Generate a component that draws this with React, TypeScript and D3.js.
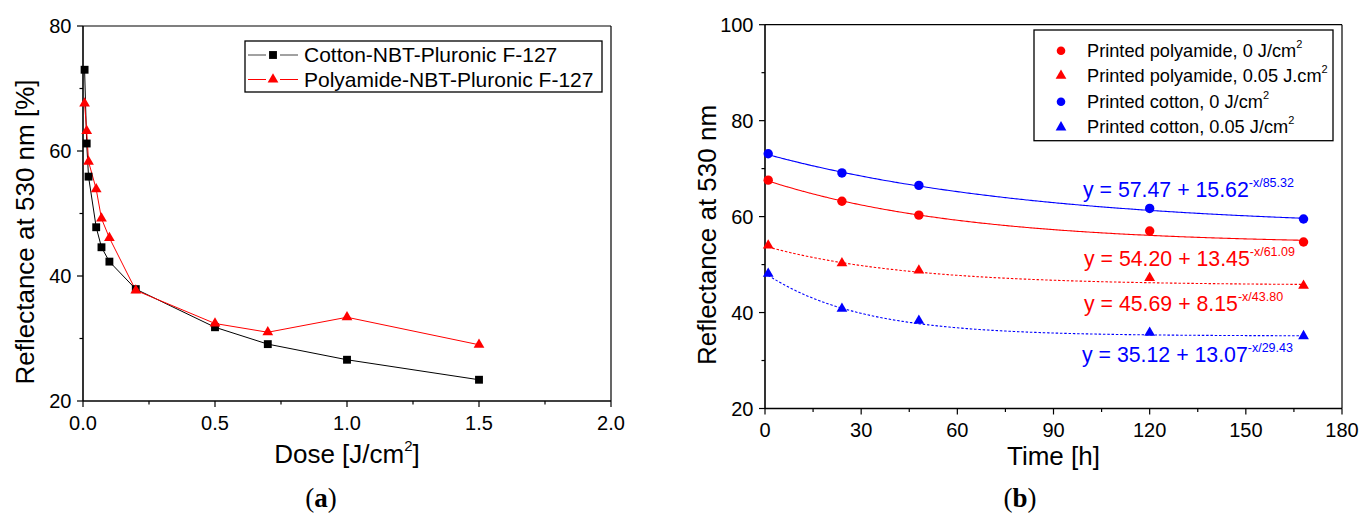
import React from "react";
import * as d3 from "d3";

// ---------- Panel (a) data ----------
const doseA = [0.006, 0.014, 0.021, 0.05, 0.07, 0.1, 0.2, 0.5, 0.7, 1.0, 1.5];
const cottonA = [73.0, 61.2, 55.9, 47.8, 44.6, 42.3, 37.9, 31.8, 29.1, 26.6, 23.4];
const polyamideA = [67.6, 63.2, 58.3, 53.9, 49.2, 46.1, 37.7, 32.4, 31.0, 33.4, 29.0];
const xTicksA = [0, 0.5, 1.0, 1.5, 2.0];
const xMinorA = [0.25, 0.75, 1.25, 1.75];
const yTicksA = [20, 40, 60, 80];
const yMinorA = [30, 50, 70];
const legendA = ["Cotton-NBT-Pluronic F-127", "Polyamide-NBT-Pluronic F-127"];

// ---------- Panel (b) data ----------
const timeB = [1, 24, 48, 120, 168];
const polyamide0 = [67.6, 63.2, 60.3, 57.0, 54.7];
const polyamide005 = [54.0, 50.3, 48.8, 47.2, 45.6];
const cotton0 = [73.1, 69.1, 66.5, 61.7, 59.5];
const cotton005 = [48.1, 40.8, 38.3, 35.8, 35.1];
const fitOffset = [54.2, 45.69, 57.47, 35.12];
const fitAmp = [13.45, 8.15, 15.62, 13.07];
const fitTau = [61.09, 43.8, 85.32, 29.43];
const xTicksB = [0, 30, 60, 90, 120, 150, 180];
const xMinorB = [15, 45, 75, 105, 135, 165];
const yTicksB = [20, 40, 60, 80, 100];
const yMinorB = [30, 50, 70, 90];
const legendB = [
  "Printed polyamide, 0 J/cm",
  "Printed polyamide, 0.05 J.cm",
  "Printed cotton, 0 J/cm",
  "Printed cotton, 0.05 J/cm",
];

const SANS = "'Liberation Sans', Arial, sans-serif";
const SERIF = "'Liberation Serif', 'Times New Roman', serif";
const RED = "#ff0000";
const BLUE = "#0000ff";

const xA = d3.scaleLinear().domain([0, 2]).range([83, 611]);
const yA = d3.scaleLinear().domain([20, 80]).range([401, 26]);
const xB = d3.scaleLinear().domain([0, 180]).range([765, 1342]);
const yB = d3.scaleLinear().domain([20, 100]).range([408.5, 24.7]);

const sq = d3.symbol(d3.symbolSquare, 62)();
const tri = d3.symbol(d3.symbolTriangle, 50)();

function Axes({ xs, ys, xT, xM, yT, yM, fmtX }: any) {
  const [x0, x1] = xs.range();
  const [y0, y1] = ys.range();
  return (
    <g>
      <line x1={x0} x2={x1} y1={y1} y2={y1} stroke="#000" strokeWidth={1.2} />
      <line x1={x1} x2={x1} y1={y0} y2={y1} stroke="#000" strokeWidth={1.2} />
      <line x1={x0} x2={x1} y1={y0} y2={y0} stroke="#000" strokeWidth={1.6} />
      <line x1={x0} x2={x0} y1={y0} y2={y1} stroke="#000" strokeWidth={1.6} />
      {xT.map((t: number) => (
        <g key={"xt" + t}>
          <line x1={xs(t)} x2={xs(t)} y1={y0} y2={y0 + 6} stroke="#000" strokeWidth={1.2} />
          <text x={xs(t)} y={y0 + 28.5} textAnchor="middle" fontSize={20} fontFamily={SANS}>
            {fmtX(t)}
          </text>
        </g>
      ))}
      {xM.map((t: number) => (
        <line key={"xm" + t} x1={xs(t)} x2={xs(t)} y1={y0} y2={y0 + 3.5} stroke="#000" strokeWidth={1.2} />
      ))}
      {yT.map((t: number) => (
        <g key={"yt" + t}>
          <line x1={x0 - 6} x2={x0} y1={ys(t)} y2={ys(t)} stroke="#000" strokeWidth={1.2} />
          <text x={x0 - 11.5} y={ys(t) + 7} textAnchor="end" fontSize={20} fontFamily={SANS}>
            {t}
          </text>
        </g>
      ))}
      {yM.map((t: number) => (
        <line key={"ym" + t} x1={x0 - 3.5} x2={x0} y1={ys(t)} y2={ys(t)} stroke="#000" strokeWidth={1.2} />
      ))}
    </g>
  );
}

function PanelA() {
  const line = d3
    .line<number>()
    .x((_, i) => xA(doseA[i]))
    .y((d) => yA(d));
  return (
    <g>
      <Axes xs={xA} ys={yA} xT={xTicksA} xM={xMinorA} yT={yTicksA} yM={yMinorA} fmtX={(t: number) => t.toFixed(1)} />
      <path d={line(cottonA) || ""} fill="none" stroke="#000" strokeWidth={1} />
      <path d={line(polyamideA) || ""} fill="none" stroke={RED} strokeWidth={1} />
      {cottonA.map((v, i) => (
        <path key={"c" + i} d={sq} transform={`translate(${xA(doseA[i])},${yA(v)})`} fill="#000" />
      ))}
      {polyamideA.map((v, i) => (
        <path key={"p" + i} d={tri} transform={`translate(${xA(doseA[i])},${yA(v)})`} fill={RED} />
      ))}
      {/* legend */}
      <rect x={245} y={41} width={357} height={51} fill="#fff" stroke="#000" strokeWidth={1.3} />
      {[0, 1].map((i) => {
        const cy = i === 0 ? 55 : 79.5;
        const col = i === 0 ? "#000" : RED;
        return (
          <g key={"la" + i}>
            <line x1={248} x2={266} y1={cy} y2={cy} stroke={i === 0 ? "#444" : RED} strokeWidth={1} />
            <line x1={280} x2={298} y1={cy} y2={cy} stroke={i === 0 ? "#444" : RED} strokeWidth={1} />
            <path d={i === 0 ? sq : tri} transform={`translate(273,${cy})`} fill={col} />
            <text x={304} y={cy + 7.4} fontSize={21} fontFamily={SANS}>
              {legendA[i]}
            </text>
          </g>
        );
      })}
      {/* titles */}
      <text x={347} y={463} textAnchor="middle" fontSize={26} fontFamily={SANS}>
        Dose [J/cm
        <tspan fontSize={15} dy={-12}>2</tspan>
        <tspan dy={12}>]</tspan>
      </text>
      <text transform="translate(33.5,232) rotate(-90)" textAnchor="middle" fontSize={26} fontFamily={SANS}>
        Reflectance at 530 nm [%]
      </text>
      <text x={321} y={507} textAnchor="middle" fontSize={27} fontFamily={SERIF}>
        (<tspan fontWeight="bold">a</tspan>)
      </text>
    </g>
  );
}

function PanelB() {
  const seriesVals = [polyamide0, polyamide005, cotton0, cotton005];
  const colors = [RED, RED, BLUE, BLUE];
  const isTri = [false, true, false, true];
  const eqPos = [
    { x: 1084, y: 266 },
    { x: 1084, y: 311 },
    { x: 1083, y: 197 },
    { x: 1082, y: 362 },
  ];
  const legY = [50.7, 75.7, 101.7, 127.3];
  const samples = d3.range(1, 168.01, 1);
  return (
    <g>
      <Axes xs={xB} ys={yB} xT={xTicksB} xM={xMinorB} yT={yTicksB} yM={yMinorB} fmtX={(t: number) => String(t)} />
      {seriesVals.map((vals, s) => {
        const fit = d3
          .line<number>()
          .x((t) => xB(t))
          .y((t) => yB(fitOffset[s] + fitAmp[s] * Math.exp(-t / fitTau[s])))
          .curve(d3.curveBasis);
        return (
          <g key={"s" + s}>
            <path
              d={fit(samples) || ""}
              fill="none"
              stroke={colors[s]}
              strokeWidth={1.1}
              strokeDasharray={isTri[s] ? "2.5,1.8" : undefined}
            />
            {vals.map((v, i) =>
              isTri[s] ? (
                <path key={i} d={tri} transform={`translate(${xB(timeB[i])},${yB(v)})`} fill={colors[s]} />
              ) : (
                <circle key={i} cx={xB(timeB[i])} cy={yB(v)} r={4.7} fill={colors[s]} />
              )
            )}
            <text x={eqPos[s].x} y={eqPos[s].y} fontSize={21.3} fontFamily={SANS} fill={colors[s]}>
              {`y = ${fitOffset[s].toFixed(2)} + ${fitAmp[s].toFixed(2)}`}
              <tspan fontSize={12.5} dy={-10}>{`-x/${fitTau[s].toFixed(2)}`}</tspan>
            </text>
          </g>
        );
      })}
      {/* legend */}
      <rect x={1034} y={30} width={299} height={110.7} fill="#fff" stroke="#000" strokeWidth={1.3} />
      {legendB.map((label, i) => (
        <g key={"lb" + i}>
          {isTri[i] ? (
            <path d={tri} transform={`translate(1061,${legY[i]})`} fill={colors[i]} />
          ) : (
            <circle cx={1061} cy={legY[i]} r={4.3} fill={colors[i]} />
          )}
          <text x={1087} y={legY[i] + 5.8} fontSize={18.2} fontFamily={SANS}>
            {label}
            <tspan fontSize={11} dy={-9}>2</tspan>
          </text>
        </g>
      ))}
      {/* titles */}
      <text x={1053.5} y={465} textAnchor="middle" fontSize={26} fontFamily={SANS}>
        Time [h]
      </text>
      <text transform="translate(716,235) rotate(-90)" textAnchor="middle" fontSize={26} fontFamily={SANS}>
        Reflectance at 530 nm
      </text>
      <text x={1020} y={507} textAnchor="middle" fontSize={27} fontFamily={SERIF}>
        (<tspan fontWeight="bold">b</tspan>)
      </text>
    </g>
  );
}

export default function App() {
  return (
    <svg
      width={1360}
      height={518}
      viewBox="0 0 1360 518"
      style={{ position: "absolute", left: 0, top: 0, background: "#fff" }}
    >
      <rect x={0} y={0} width={1360} height={518} fill="#fff" />
      <PanelA />
      <PanelB />
    </svg>
  );
}
